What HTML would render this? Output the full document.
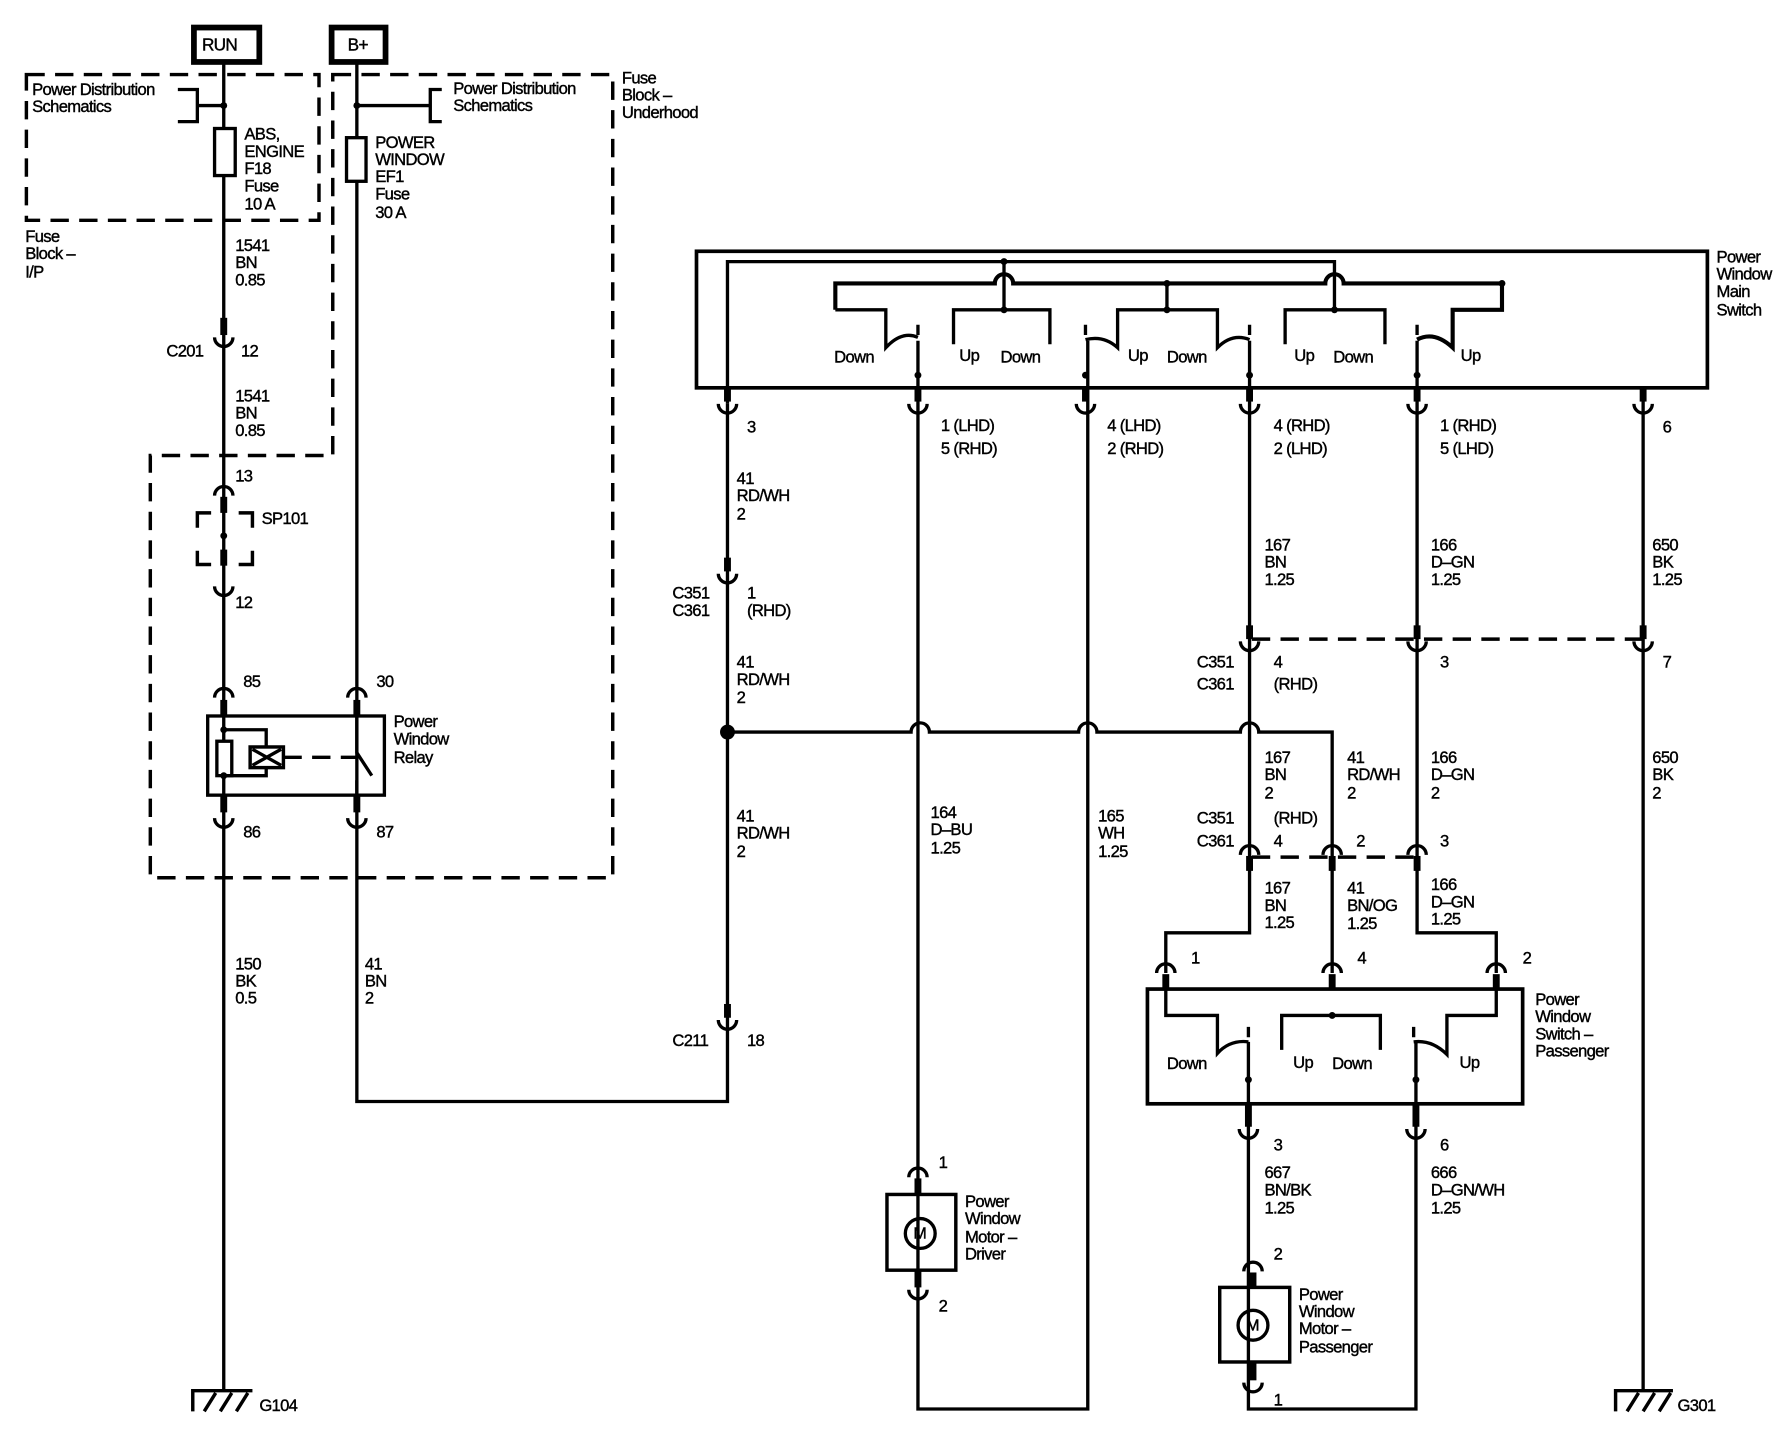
<!DOCTYPE html>
<html><head><meta charset="utf-8"><style>
html,body{margin:0;padding:0;background:#fff;}
svg{display:block;}
text{font-family:"Liberation Sans",Arial,sans-serif;font-size:14.5px;fill:#000;stroke:#000;stroke-width:0.35px;letter-spacing:-0.6px;dominant-baseline:central;}
</style></head><body>
<svg width="1790" height="1440" viewBox="0 0 1560 1255" preserveAspectRatio="none" xmlns="http://www.w3.org/2000/svg">
<g fill="none" stroke="#000" stroke-width="2.9">
<rect x="169" y="24" width="57" height="30" stroke-width="5"/>
<rect x="289" y="24" width="47" height="30" stroke-width="5"/>
<g stroke-dasharray="16,9" stroke-width="3">
<path d="M23 65 H278 V192 H23 Z"/>
<path d="M290 65 H534 V765 H131 V397 H290 Z"/>
<path d="M1091 557 H1432"/>
<path d="M1091 747 H1238"/>
<path d="M247 660 H310"/>
</g>
<path d="M172 460 V447 H184 M208 447 H220 V460 M172 480 V492 H184 M208 492 H220 V480" stroke-width="3"/>
<path d="M195 56 V1212"/>
<path d="M311 56 V960 H634 V352"/>
<path d="M155 78 H172 V106 H155 M172 92 H195"/>
<path d="M385 78 H375 V106 H385 M375 92 H311"/>
<rect x="187" y="112" width="18" height="41" fill="#fff"/>
<rect x="302" y="120" width="17" height="38" fill="#fff"/>
<rect x="181" y="624" width="154" height="69"/>
<path d="M195 636 H232 V676 H195"/>
<rect x="189" y="646" width="13" height="30" fill="#fff"/>
<rect x="218" y="651" width="29" height="18" fill="#fff" stroke-width="3"/>
<path d="M220 653 L245 667 M245 653 L220 667"/>
<path d="M311 622 V656 L324 676 M311 680 V694" />
<rect x="607" y="219" width="881" height="119" stroke-width="3.2"/>
<path d="M634 352 V228 H1163 V270"/>
<path d="M875 228 V270"/>
<path d="M728 270 V247 H867 A8 8 0 0 1 883 247 H1155 A8 8 0 0 1 1171 247 H1309 V270 H1266 V303 Q1250 288 1235 296" stroke-width="3.6"/>
<path d="M1017 247 V270"/>
<path d="M728 270 H772 V303 Q786 288 800 294"/>
<path d="M831 300 V270 H915 V300"/>
<path d="M946 296 Q962 292 974 303 V270 H1061 V303 Q1074 290 1089 296"/>
<path d="M1120 300 V270 H1207 V300"/>
<path d="M800 283 V292 M946 283 V292 M1089 283 V292 M1235 283 V292"/>
<path d="M800 297 V1228 H948 V297"/>
<path d="M1089 297 V813 H1016 V848"/>
<path d="M1235 297 V813 H1304 V848"/>
<path d="M1432 338 V1212"/>
<path d="M634 638 H794 A8 8 0 0 1 810 638 H940 A8 8 0 0 1 956 638 H1081 A8 8 0 0 1 1097 638 H1161 V848"/>
<rect x="1000" y="862" width="327" height="100" stroke-width="3.2"/>
<path d="M1016 862 V885 H1061 V918 Q1072 906 1088 908"/>
<path d="M1117 915 V885 H1203 V915"/>
<path d="M1304 862 V885 H1261 V919 Q1248 906 1232 908"/>
<path d="M1088 895 V904 M1232 895 V904"/>
<path d="M1088 908 V1228 H1234 V908"/>
<rect x="773" y="1041" width="60" height="66" stroke-width="3"/>
<circle cx="802" cy="1075" r="13"/>
<rect x="1063" y="1122" width="61" height="65" stroke-width="3"/>
<circle cx="1092" cy="1155" r="13"/>
<path d="M168 1230 V1212 H220 M178 1230 L188 1214 M192 1230 L202 1214 M206 1230 L216 1214" stroke-width="3"/>
<path d="M1408 1230 V1212 H1458 M1418 1230 L1428 1214 M1432 1230 L1442 1214 M1446 1230 L1456 1214" stroke-width="3"/>
<g>
<path d="M187 294 a8 8 0 0 0 16 0 M187 511 a8 8 0 0 0 16 0 M187 713 a8 8 0 0 0 16 0 M303 713 a8 8 0 0 0 16 0"/>
<path d="M626 352 a8 8 0 0 0 16 0 M792 352 a8 8 0 0 0 16 0 M938 352 a8 8 0 0 0 16 0 M1081 352 a8 8 0 0 0 16 0 M1227 352 a8 8 0 0 0 16 0 M1424 352 a8 8 0 0 0 16 0"/>
<path d="M626 500 a8 8 0 0 0 16 0 M1081 559 a8 8 0 0 0 16 0 M1227 559 a8 8 0 0 0 16 0 M1424 559 a8 8 0 0 0 16 0 M626 889 a8 8 0 0 0 16 0"/>
<path d="M1080 984 a8 8 0 0 0 16 0 M1226 984 a8 8 0 0 0 16 0 M792 1124 a8 8 0 0 0 16 0 M1084 1205 a8 8 0 0 0 16 0"/>
</g>
<path d="M187 432 a8 8 0 0 1 16 0 M187 608 a8 8 0 0 1 16 0 M303 608 a8 8 0 0 1 16 0"/>
<path d="M1081 745 a8 8 0 0 1 16 0 M1153 745 a8 8 0 0 1 16 0 M1227 745 a8 8 0 0 1 16 0"/>
<path d="M1008 848 a8 8 0 0 1 16 0 M1153 848 a8 8 0 0 1 16 0 M1296 848 a8 8 0 0 1 16 0"/>
<path d="M792 1026 a8 8 0 0 1 16 0 M1084 1108 a8 8 0 0 1 16 0"/>
</g>
<g fill="#000">
<rect x="192" y="277" width="6" height="15"/><rect x="192" y="433" width="6" height="14"/>
<rect x="192" y="479" width="6" height="14"/><rect x="192" y="610" width="6" height="14"/>
<rect x="308" y="610" width="6" height="14"/><rect x="192" y="693" width="6" height="15"/><rect x="308" y="693" width="6" height="15"/>
<rect x="631" y="338" width="6" height="12"/><rect x="797" y="338" width="6" height="12"/><rect x="943" y="338" width="6" height="12"/>
<rect x="1086" y="338" width="6" height="12"/><rect x="1232" y="338" width="6" height="12"/><rect x="1429" y="338" width="6" height="12"/>
<rect x="631" y="486" width="6" height="12"/><rect x="1086" y="545" width="6" height="12"/><rect x="1232" y="545" width="6" height="12"/><rect x="1429" y="545" width="6" height="12"/>
<rect x="631" y="875" width="6" height="12"/>
<rect x="1086" y="746" width="6" height="13"/><rect x="1158" y="746" width="6" height="13"/><rect x="1232" y="746" width="6" height="13"/>
<rect x="1013" y="849" width="6" height="13"/><rect x="1158" y="849" width="6" height="13"/><rect x="1301" y="849" width="6" height="13"/>
<rect x="1085" y="962" width="6" height="20"/><rect x="1231" y="962" width="6" height="20"/>
<rect x="797" y="1027" width="6" height="14"/><rect x="797" y="1107" width="6" height="15"/>
<rect x="1089" y="1109" width="6" height="13"/><rect x="1089" y="1187" width="6" height="16"/>
<circle cx="195" cy="92" r="3"/><circle cx="311" cy="92" r="3"/><circle cx="195" cy="467" r="3"/>
<circle cx="195" cy="636" r="3"/><circle cx="195" cy="676" r="3"/>
<circle cx="634" cy="638" r="6.5"/>
<circle cx="875" cy="228" r="3"/><circle cx="875" cy="270" r="3"/><circle cx="1017" cy="247" r="3"/><circle cx="1017" cy="270" r="3"/><circle cx="1163" cy="270" r="3"/><circle cx="1309" cy="247" r="3"/>
<circle cx="800" cy="327" r="3"/><circle cx="946" cy="327" r="3"/><circle cx="1089" cy="327" r="3"/><circle cx="1235" cy="327" r="3"/>
<circle cx="1161" cy="885" r="3"/><circle cx="1088" cy="941" r="3"/><circle cx="1234" cy="941" r="3"/>
</g>
<g>
<text x="176" y="39" style="font-size:15px">RUN</text>
<text x="303" y="39" style="font-size:15px">B+</text>
<text x="796" y="1075" style="font-size:14px">M</text>
<text x="1086" y="1155" style="font-size:14px">M</text>
<text x="28" y="78">Power Distribution</text><text x="28" y="93">Schematics</text>
<text x="213" y="117">ABS,</text><text x="213" y="132">ENGINE</text><text x="213" y="147">F18</text><text x="213" y="162">Fuse</text><text x="213" y="178">10 A</text>
<text x="395" y="77">Power Distribution</text><text x="395" y="92">Schematics</text>
<text x="327" y="124">POWER</text><text x="327" y="139">WINDOW</text><text x="327" y="154">EF1</text><text x="327" y="169">Fuse</text><text x="327" y="185">30 A</text>
<text x="542" y="68">Fuse</text><text x="542" y="83">Block –</text><text x="542" y="98">Underhood</text>
<text x="22" y="206">Fuse</text><text x="22" y="221">Block –</text><text x="22" y="237">I/P</text>
<text x="205" y="214">1541</text><text x="205" y="229">BN</text><text x="205" y="244">0.85</text>
<text x="145" y="306">C201</text><text x="210" y="306">12</text>
<text x="205" y="345">1541</text><text x="205" y="360">BN</text><text x="205" y="375">0.85</text>
<text x="205" y="415">13</text><text x="228" y="452">SP101</text><text x="205" y="525">12</text>
<text x="212" y="594">85</text><text x="328" y="594">30</text>
<text x="343" y="629">Power</text><text x="343" y="644">Window</text><text x="343" y="660">Relay</text>
<text x="212" y="725">86</text><text x="328" y="725">87</text>
<text x="205" y="840">150</text><text x="205" y="855">BK</text><text x="205" y="870">0.5</text>
<text x="318" y="840">41</text><text x="318" y="855">BN</text><text x="318" y="870">2</text>
<text x="226" y="1225">G104</text><text x="1462" y="1225">G301</text>
<text x="1496" y="224">Power</text><text x="1496" y="239">Window</text><text x="1496" y="254">Main</text><text x="1496" y="270">Switch</text>
<text x="727" y="311">Down</text><text x="836" y="310">Up</text><text x="872" y="311">Down</text>
<text x="983" y="310">Up</text><text x="1017" y="311">Down</text><text x="1128" y="310">Up</text><text x="1162" y="311">Down</text><text x="1273" y="310">Up</text>
<text x="651" y="372">3</text>
<text x="820" y="371">1 (LHD)</text><text x="820" y="391">5 (RHD)</text>
<text x="965" y="371">4 (LHD)</text><text x="965" y="391">2 (RHD)</text>
<text x="1110" y="371">4 (RHD)</text><text x="1110" y="391">2 (LHD)</text>
<text x="1255" y="371">1 (RHD)</text><text x="1255" y="391">5 (LHD)</text>
<text x="1449" y="372">6</text>
<text x="642" y="417">41</text><text x="642" y="432">RD/WH</text><text x="642" y="448">2</text>
<text x="586" y="517">C351</text><text x="586" y="532">C361</text><text x="651" y="517">1</text><text x="651" y="532">(RHD)</text>
<text x="642" y="577">41</text><text x="642" y="592">RD/WH</text><text x="642" y="608">2</text>
<text x="642" y="711">41</text><text x="642" y="726">RD/WH</text><text x="642" y="742">2</text>
<text x="586" y="907">C211</text><text x="651" y="907">18</text>
<text x="1102" y="475">167</text><text x="1102" y="490">BN</text><text x="1102" y="505">1.25</text>
<text x="1247" y="475">166</text><text x="1247" y="490">D–GN</text><text x="1247" y="505">1.25</text>
<text x="1440" y="475">650</text><text x="1440" y="490">BK</text><text x="1440" y="505">1.25</text>
<text x="1043" y="577">C351</text><text x="1043" y="596">C361</text><text x="1110" y="577">4</text><text x="1110" y="596">(RHD)</text>
<text x="1255" y="577">3</text><text x="1449" y="577">7</text>
<text x="1102" y="660">167</text><text x="1102" y="675">BN</text><text x="1102" y="691">2</text>
<text x="1174" y="660">41</text><text x="1174" y="675">RD/WH</text><text x="1174" y="691">2</text>
<text x="1247" y="660">166</text><text x="1247" y="675">D–GN</text><text x="1247" y="691">2</text>
<text x="1440" y="660">650</text><text x="1440" y="675">BK</text><text x="1440" y="691">2</text>
<text x="1043" y="713">C351</text><text x="1043" y="733">C361</text><text x="1110" y="713">(RHD)</text><text x="1110" y="733">4</text>
<text x="1182" y="733">2</text><text x="1255" y="733">3</text>
<text x="811" y="708">164</text><text x="811" y="723">D–BU</text><text x="811" y="739">1.25</text>
<text x="957" y="711">165</text><text x="957" y="726">WH</text><text x="957" y="742">1.25</text>
<text x="1102" y="774">167</text><text x="1102" y="789">BN</text><text x="1102" y="804">1.25</text>
<text x="1174" y="774">41</text><text x="1174" y="789">BN/OG</text><text x="1174" y="805">1.25</text>
<text x="1247" y="771">166</text><text x="1247" y="786">D–GN</text><text x="1247" y="801">1.25</text>
<text x="1038" y="835">1</text><text x="1183" y="835">4</text><text x="1327" y="835">2</text>
<text x="1338" y="871">Power</text><text x="1338" y="886">Window</text><text x="1338" y="901">Switch –</text><text x="1338" y="916">Passenger</text>
<text x="1017" y="927">Down</text><text x="1127" y="926">Up</text><text x="1161" y="927">Down</text><text x="1272" y="926">Up</text>
<text x="1110" y="998">3</text><text x="1255" y="998">6</text>
<text x="1102" y="1022">667</text><text x="1102" y="1037">BN/BK</text><text x="1102" y="1053">1.25</text>
<text x="1247" y="1022">666</text><text x="1247" y="1037">D–GN/WH</text><text x="1247" y="1053">1.25</text>
<text x="1110" y="1093">2</text><text x="1110" y="1220">1</text>
<text x="1132" y="1128">Power</text><text x="1132" y="1143">Window</text><text x="1132" y="1158">Motor –</text><text x="1132" y="1174">Passenger</text>
<text x="818" y="1013">1</text><text x="818" y="1138">2</text>
<text x="841" y="1047">Power</text><text x="841" y="1062">Window</text><text x="841" y="1078">Motor –</text><text x="841" y="1093">Driver</text>
</g>
</svg>
</body></html>
